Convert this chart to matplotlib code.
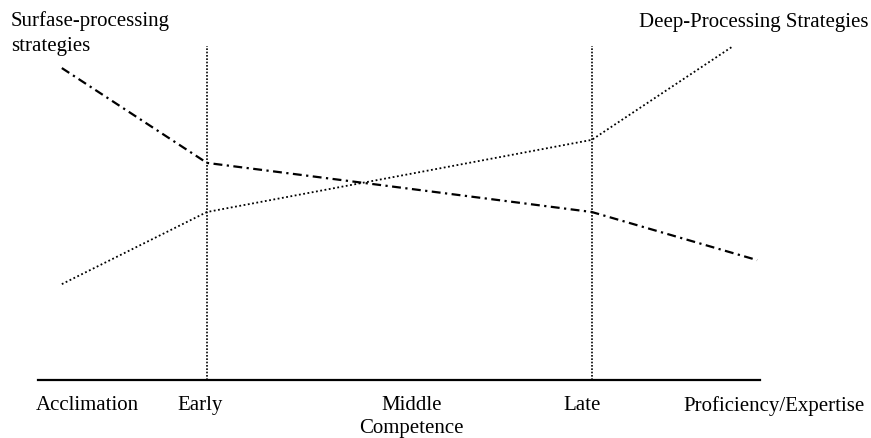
import matplotlib
matplotlib.use("Agg")
import matplotlib.pyplot as plt
import matplotlib.transforms as mtransforms

plt.rcParams['font.family'] = ['Liberation Serif', 'DejaVu Serif']

# stage positions along the development axis (0-100)
stage_x = [3.3, 23.4, 76.7]
surface_x = stage_x + [99.6]
surface_y = [93.4, 65.0, 50.3, 35.9]
deep_x = stage_x + [96.3]
deep_y = [28.7, 50.3, 71.9, 100.0]
divider_x = [23.4, 76.7]

labels = ['Acclimation', 'Early', 'Middle\nCompetence', 'Late', 'Proficiency/Expertise']
label_x = [6.8, 22.4, 51.7, 75.3, 101.9]

fig = plt.figure(figsize=(8.71, 4.39), dpi=100)
ax = fig.add_axes([38/871, 58/439, 722/871, 334/439])
ax.set_xlim(0, 100)
ax.set_ylim(0, 100)

ax.plot(surface_x, surface_y, color='black', lw=1.6, dashes=(4, 2, 1, 2), clip_on=False)
ax.plot(deep_x, deep_y, color='black', lw=1.3, linestyle=(0, (1, 1.4)), clip_on=False)
for x in divider_x:
    ax.plot([x, x], [0, 100], color='black', lw=1.2, linestyle=(0, (1, 1.0)))

for s in ['top', 'right', 'left']:
    ax.spines[s].set_visible(False)
ax.spines['bottom'].set_linewidth(1.6)
ax.set_xticks([])
ax.set_yticks([])

trans = mtransforms.blended_transform_factory(ax.transData, fig.transFigure)
for x, lab in zip(label_x, labels):
    ax.text(x, 1 - 396/439, lab, transform=trans, ha='center', va='top',
            fontsize=15, linespacing=1.3, clip_on=False)

fig.text(11/871, 1 - 26/439, 'Surfase-processing', ha='left', va='baseline', fontsize=15)
fig.text(11/871, 1 - 51/439, 'strategies', ha='left', va='baseline', fontsize=15)
fig.text(868/871, 1 - 27/439, 'Deep-Processing Strategies', ha='right', va='baseline', fontsize=15)

fig.savefig('out.png', dpi=100)
